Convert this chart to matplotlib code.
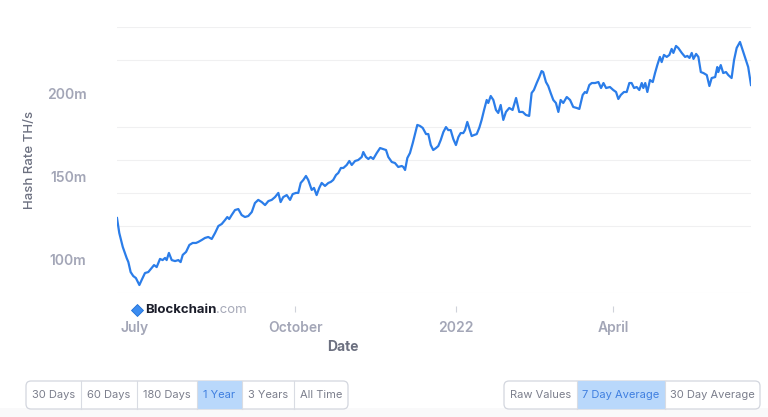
import numpy as np
import pandas as pd
import matplotlib
matplotlib.use("Agg")
import matplotlib.pyplot as plt
from matplotlib.patches import FancyBboxPatch, Rectangle

plt.rcParams["font.family"] = ["Inter", "DejaVu Sans"]

# ─── Dados (hash rate, média de 7 dias, em milhões de TH/s) ───────────────────
start_date = "2021-06-21"
days = [0, 1.3, 3.3, 5.5, 6.5, 7.8, 9.3, 10.8, 12.8, 14.1, 16.0, 17.9, 19.8, 21.2, 22.7,
        24.6, 26.1, 27.5, 28.4, 29.7, 31.3, 33.2, 35.1, 36.4, 37.6, 39.5, 41.4, 43.3, 45.2,
        46.5, 48.5, 50.3, 52.2, 54.2, 56.1, 58.0, 59.9, 61.8, 63.1, 64.2, 65.6, 67.5, 69.4,
        71.3, 73.2, 75.1, 77.1, 78.9, 80.8, 82.8, 84.7, 86.6, 88.5, 90.4, 92.3, 93.6, 95.1,
        97.1, 99.0, 100.5, 102.4, 103.7, 105.1, 106.6, 108.1, 109.4, 111.4, 112.7, 114.2,
        115.7, 117.1, 119.0, 120.9, 122.3, 123.7, 125.3, 126.6, 128.1, 129.5, 131.4, 132.9,
        134.3, 136.2, 138.0, 140.0, 140.9, 142.4, 143.8, 145.1, 146.6, 148.6, 150.5, 152.3,
        153.9, 155.2, 157.2, 159.0, 160.9, 162.9, 163.8, 164.8, 166.1, 167.6, 169.2, 170.5,
        171.8, 173.3, 174.9, 176.8, 178.1, 179.5, 180.9, 182.5, 183.8, 185.2, 186.7, 188.2,
        189.5, 190.9, 192.4, 193.9, 195.3, 196.6, 198.1, 199.1, 200.4, 201.5, 202.9, 204.2,
        205.8, 207.3, 208.6, 210.0, 211.5, 212.4, 213.8, 215.3, 216.8, 218.1, 219.5, 221.0,
        222.5, 224.4, 226.3, 228.3, 230.1, 232.1, 233.9, 235.8, 237.2, 238.5, 240.1, 241.6,
        242.9, 243.8, 245.4, 246.7, 248.1, 249.6, 251.1, 252.5, 253.8, 255.3, 257.3, 259.2,
        261.0, 263.0, 264.5, 266.4, 267.7, 268.7, 270.2, 271.6, 273.5, 275.4, 276.9, 278.3,
        279.8, 282.0, 283.9, 285.5, 286.8, 288.2, 290.0, 291.6, 293.1, 294.4, 295.8, 297.3,
        298.8, 300.2, 301.1, 302.2, 303.4, 304.9, 306.5, 307.8, 309.1, 310.6, 311.6, 312.9,
        314.5, 316.0, 317.3, 318.3, 319.8, 321.1, 323.1, 325.0, 326.3, 327.5, 328.8, 329.8,
        331.3, 332.6, 334.0, 335.5, 337.4, 338.9, 340.2, 342.2, 343.4, 344.0, 345.4, 346.8,
        348.4, 349.7, 351.6, 353.0, 354.5, 356.4, 357.9, 360.2, 361.1, 362.7]
hash_rate = [125.1, 116.1, 107.7, 101.1, 98.6, 92.6, 90.2, 89.0, 84.8, 87.8, 92.0, 92.6, 95.0,
             96.8, 95.6, 100.5, 99.8, 101.1, 99.8, 104.1, 99.8, 99.2, 99.8, 98.6, 102.9, 104.7,
             108.9, 110.1, 110.1, 110.7, 111.9, 113.1, 113.7, 112.5, 116.1, 120.3, 121.5, 123.9,
             125.7, 124.5, 126.9, 129.9, 130.5, 126.9, 125.7, 126.3, 128.7, 134.1, 136.0, 134.7,
             132.9, 135.3, 136.0, 137.7, 140.2, 134.7, 137.7, 138.9, 136.0, 139.5, 140.2, 140.2,
             146.2, 148.0, 150.4, 148.0, 142.0, 143.2, 138.9, 143.2, 146.2, 144.4, 146.2, 146.8,
             148.0, 151.0, 152.2, 155.2, 155.2, 157.0, 159.4, 157.0, 159.4, 160.0, 161.8, 164.8,
             161.8, 160.6, 161.8, 160.6, 164.2, 167.2, 166.6, 166.0, 161.8, 158.8, 158.2, 155.8,
             156.4, 155.8, 154.0, 161.2, 164.2, 170.2, 175.6, 181.1, 180.5, 179.3, 175.6, 175.6,
             169.0, 166.0, 167.2, 168.4, 172.0, 176.8, 179.8, 178.0, 178.0, 172.6, 169.0, 173.8,
             176.2, 176.2, 178.0, 182.9, 179.2, 174.4, 175.0, 175.6, 179.5, 184.1, 190.1, 196.1,
             194.3, 198.5, 196.1, 190.1, 188.3, 193.1, 184.1, 188.9, 191.3, 190.1, 197.3, 188.9,
             188.9, 187.1, 186.5, 200.3, 202.1, 206.3, 209.9, 213.5, 212.9, 206.9, 204.5, 200.3,
             196.1, 194.3, 188.9, 196.1, 194.3, 197.9, 196.1, 191.9, 191.3, 190.7, 199.1, 200.9,
             200.3, 205.1, 206.3, 206.3, 206.9, 203.3, 206.3, 203.3, 203.9, 202.1, 200.9, 196.7,
             199.1, 200.9, 200.9, 206.3, 206.3, 203.3, 203.9, 202.1, 206.3, 203.3, 206.3, 200.9,
             208.1, 206.9, 212.3, 217.1, 222.0, 218.9, 223.2, 222.0, 223.2, 226.8, 224.4, 228.6,
             227.4, 224.4, 222.0, 222.6, 221.4, 224.4, 220.8, 223.8, 222.0, 212.9, 212.3, 211.1,
             204.5, 209.3, 209.9, 215.9, 212.9, 217.1, 212.3, 212.9, 211.1, 209.3, 220.1, 227.4,
             231.0, 226.2, 218.9, 215.9, 205.1]

x_ticks = ["2021-07-01", "2021-10-01", "2022-01-01", "2022-04-01"]
x_tick_labels = ["July", "October", "2022", "April"]
y_ticks = [100, 150, 200]
y_tick_labels = ["100m", "150m", "200m"]
range_buttons = ["30 Days", "60 Days", "180 Days", "1 Year", "3 Years", "All Time"]
avg_buttons = ["Raw Values", "7 Day Average", "30 Day Average"]
range_selected = "1 Year"
avg_selected = "7 Day Average"

# ─── Layout (pixels) ──────────────────────────────────────────────────────────
W, H = 768, 417
range_edges = [26, 81, 137, 197, 242, 294, 348]
avg_edges = [504, 577, 665, 760]
LINE = "#2b7de9"
TICK_TXT = "#a3a6b7"
LABEL_TXT = "#6c7080"

fig = plt.figure(figsize=(W / 100, H / 100), dpi=100)
fig.patch.set_facecolor("white")

ax = fig.add_axes([117 / W, 1 - 293 / H, (751 - 117) / W, (293 - 27) / H])
dates = pd.Timestamp(start_date) + pd.to_timedelta(days, unit="D")
ax.plot(dates, hash_rate, color=LINE, lw=1.6, solid_joinstyle="round", zorder=3)
ax.set_xlim(dates[0], dates[-1])
ax.set_ylim(80, 240)

ax.set_yticks(y_ticks, y_tick_labels)
ax.set_yticks(np.arange(80, 241, 20), minor=True)
ax.grid(which="minor", axis="y", color="#f0f0f1", lw=0.8)
ax.tick_params(axis="y", which="both", length=0, pad=22, labelsize=10,
               labelcolor=TICK_TXT)

ax.set_xticks(pd.to_datetime(x_ticks), x_tick_labels)
ax.spines["bottom"].set_position(("outward", 9))
ax.tick_params(axis="x", length=4, width=0.8, color="#cfd2da", pad=7,
               labelsize=10, labelcolor=TICK_TXT)
ax.xaxis.get_major_ticks()[0].tick1line.set_visible(False)
for lbl in ax.get_xticklabels() + ax.get_yticklabels():
    lbl.set_fontweight("semibold")
for s in ax.spines.values():
    s.set_visible(False)

fig.text(30 / W, 1 - 160 / H, "Hash Rate TH/s", rotation=90, ha="center", va="center",
         fontsize=9.5, color=LABEL_TXT, fontweight="medium")
fig.text(343 / W, 1 - 347 / H, "Date", ha="center", va="center",
         fontsize=10, color=LABEL_TXT, fontweight="bold")

# ─── Camada em pixels: logo e botões ──────────────────────────────────────────
ov = fig.add_axes([0, 0, 1, 1], zorder=5)
ov.set_xlim(0, W)
ov.set_ylim(H, 0)
ov.axis("off")

ov.plot([136.5], [310], marker="D", ms=6.5, color="#3b8cf0", mec="#1f6fd6", mew=0.6)
t = ov.text(145, 310, "Blockchain", ha="left", va="center", fontsize=9.5,
            fontweight="bold", color="#1b1d2a")
ov.annotate(".com", xy=(1, 0.5), xycoords=t, ha="left", va="center",
            fontsize=9.5, color="#a6a9b8")

ov.add_patch(Rectangle((0, 408), W, 9, color="#f9f9fa", lw=0, zorder=0))


def botoes(nomes, bordas, selecionado):
    top, bot = 381, 409
    ov.add_patch(FancyBboxPatch((bordas[0], top), bordas[-1] - bordas[0], bot - top,
                                boxstyle="round,pad=0,rounding_size=5",
                                fc="white", ec="#d3d6de", lw=0.9, zorder=1))
    for i, nome in enumerate(nomes):
        x0, x1 = bordas[i], bordas[i + 1]
        cor = "#7b7e8c"
        if nome == selecionado:
            ov.add_patch(Rectangle((x0, top), x1 - x0, bot - top, fc="#b9d8fb",
                                   lw=0, zorder=2))
            cor = "#3f7fe0"
        if i > 0:
            ov.plot([x0, x0], [top, bot], color="#d9dce3", lw=0.8, zorder=3)
        ov.text((x0 + x1) / 2, (top + bot) / 2 + 0.5, nome, ha="center", va="center",
                fontsize=8, color=cor, zorder=4)


botoes(range_buttons, range_edges, range_selected)
botoes(avg_buttons, avg_edges, avg_selected)

fig.savefig("out.png", dpi=100)
